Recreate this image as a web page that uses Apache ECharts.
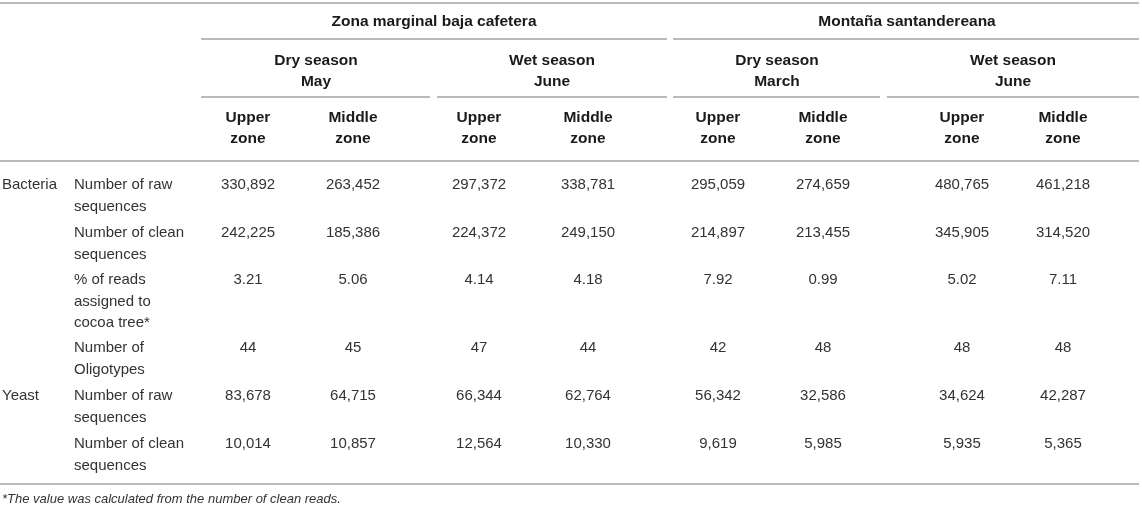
<!DOCTYPE html>
<html>
<head>
<meta charset="utf-8">
<script src="https://cdn.jsdelivr.net/npm/echarts/dist/echarts.min.js"></script>
<style>
html, body { margin: 0; padding: 0; background: #fff; }
#main { width: 1142px; height: 509px; }
</style>
</head>
<body>
<div id="main"></div>
<script>
// table content
var regions = ['Zona marginal baja cafetera', 'Montaña santandereana'];
var seasons = ['Dry season\nMay', 'Wet season\nJune', 'Dry season\nMarch', 'Wet season\nJune'];
var zones = ['Upper\nzone', 'Middle\nzone', 'Upper\nzone', 'Middle\nzone',
             'Upper\nzone', 'Middle\nzone', 'Upper\nzone', 'Middle\nzone'];
var kingdoms = ['Bacteria', '', '', '', 'Yeast', ''];
var metrics = ['Number of raw\nsequences', 'Number of clean\nsequences',
               '% of reads\nassigned to\ncocoa tree*', 'Number of\nOligotypes',
               'Number of raw\nsequences', 'Number of clean\nsequences'];
var rawBacteria = [330892, 263452, 297372, 338781, 295059, 274659, 480765, 461218];
var cleanBacteria = [242225, 185386, 224372, 249150, 214897, 213455, 345905, 314520];
var pctCocoa = [3.21, 5.06, 4.14, 4.18, 7.92, 0.99, 5.02, 7.11];
var oligotypes = [44, 45, 47, 44, 42, 48, 48, 48];
var rawYeast = [83678, 64715, 66344, 62764, 56342, 32586, 34624, 42287];
var cleanYeast = [10014, 10857, 12564, 10330, 9619, 5985, 5935, 5365];
var footnote = '*The value was calculated from the number of clean reads.';

// layout (pixels, the grid spans the whole canvas)
var regionX = [434, 907];
var seasonX = [316, 552, 777, 1013];
var colX = [248, 353, 479, 588, 718, 823, 962, 1063];
var rowY = [185, 233, 280, 348, 396, 444];
var kingdomX = 2, metricX = 74;
var rules = [
  [0, 1139, 3],
  [201, 667, 39], [673, 1139, 39],
  [201, 430, 97], [437, 667, 97], [673, 880, 97], [887, 1139, 97],
  [0, 1139, 161],
  [0, 1139, 484]
];

var styles = {
  head: { font: 'bold 15.5px "Liberation Sans", Arial, sans-serif', color: '#1a1a1a', lh: 21 },
  body: { font: '15px "Liberation Sans", Arial, sans-serif', color: '#333', lh: 21.5 },
  note: { font: 'italic 13px "Liberation Sans", Arial, sans-serif', color: '#333', lh: 16 }
};

function fmtInt(v) { return v.toLocaleString('en-US'); }
function fmtPct(v) { return v.toFixed(2); }

var rows = [
  { vals: rawBacteria, f: fmtInt },
  { vals: cleanBacteria, f: fmtInt },
  { vals: pctCocoa, f: fmtPct },
  { vals: oligotypes, f: fmtInt },
  { vals: rawYeast, f: fmtInt },
  { vals: cleanYeast, f: fmtInt }
];

var cells = [];
regions.forEach(function (t, i) {
  cells.push({ x: regionX[i], y: 22, text: t, kind: 'head', align: 'center' });
});
seasons.forEach(function (t, i) {
  cells.push({ x: seasonX[i], y: 61, text: t, kind: 'head', align: 'center' });
});
zones.forEach(function (t, i) {
  cells.push({ x: colX[i], y: 118, text: t, kind: 'head', align: 'center' });
});
rows.forEach(function (r, i) {
  if (kingdoms[i]) cells.push({ x: kingdomX, y: rowY[i], text: kingdoms[i], kind: 'body', align: 'left' });
  cells.push({ x: metricX, y: rowY[i], text: metrics[i], kind: 'body', align: 'left' });
  r.vals.forEach(function (v, j) {
    cells.push({ x: colX[j], y: rowY[i], text: r.f(v), kind: 'body', align: 'center' });
  });
});
cells.push({ x: 2, y: 499, text: footnote, kind: 'note', align: 'left' });

var dom = document.getElementById('main');
var myChart = echarts.init(dom, null, { renderer: 'canvas' });
var option = {
  animation: false,
  grid: { left: 0, right: 0, top: 0, bottom: 0 },
  xAxis: { type: 'value', min: 0, max: 1142, show: false },
  yAxis: { type: 'value', min: 0, max: 509, inverse: true, show: false },
  series: [
    {
      type: 'custom',
      silent: true,
      data: rules.map(function (r) { return [r[0], r[1], r[2]]; }),
      renderItem: function (params, api) {
        var a = api.coord([api.value(0), api.value(2)]);
        var b = api.coord([api.value(1), api.value(2)]);
        return {
          type: 'line',
          shape: { x1: a[0], y1: a[1], x2: b[0], y2: b[1] },
          style: { stroke: '#a3a3a3', lineWidth: 1.5 }
        };
      }
    },
    {
      type: 'custom',
      silent: true,
      data: cells.map(function (c) { return [c.x, c.y]; }),
      renderItem: function (params, api) {
        var c = cells[params.dataIndex];
        var st = styles[c.kind];
        var p = api.coord([api.value(0), api.value(1)]);
        return {
          type: 'text',
          x: p[0],
          y: p[1] - st.lh / 2,
          style: {
            text: c.text,
            font: st.font,
            fill: st.color,
            lineHeight: st.lh,
            align: c.align,
            verticalAlign: 'top'
          }
        };
      }
    }
  ]
};
myChart.setOption(option, true);
</script>
</body>
</html>
